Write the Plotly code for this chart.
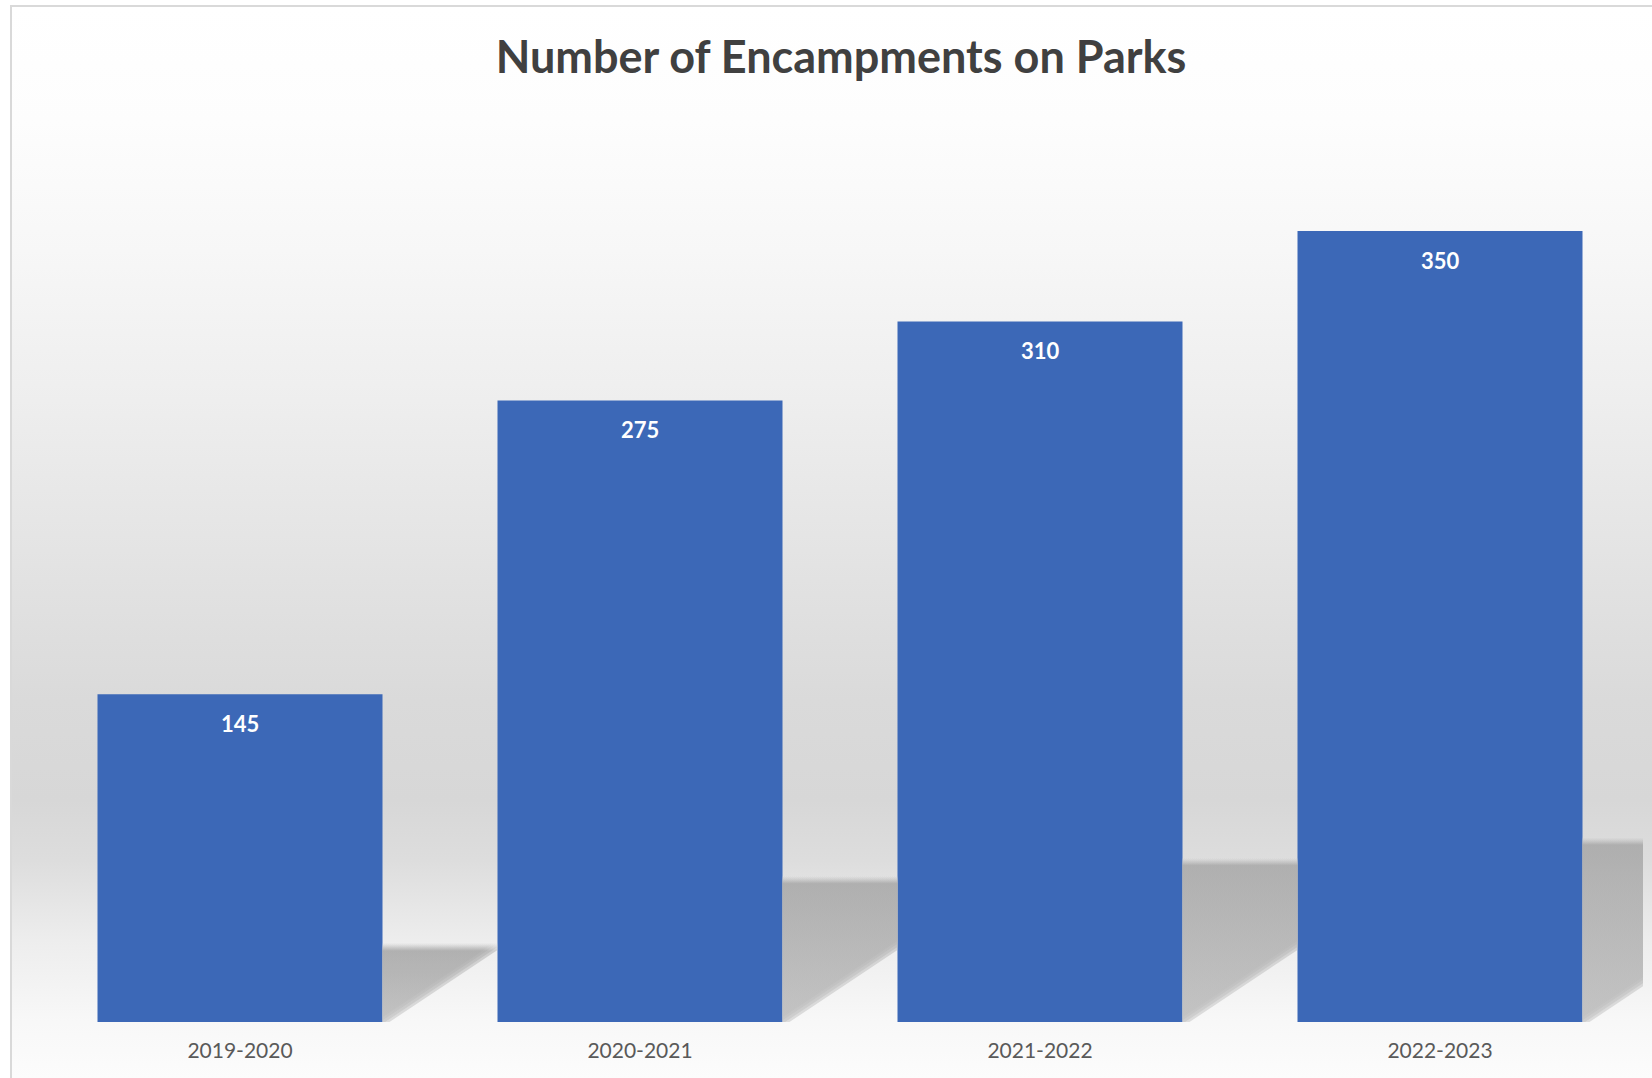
import base64
import plotly.graph_objects as go

# ---- data ----
categories = ["2019-2020", "2020-2021", "2021-2022", "2022-2023"]
values = [145, 275, 310, 350]
title_text = "Number of Encampments on Parks"

# ---- layout constants ----
W, H = 1652, 1078
ML, MR, MT, MB = 40, 9, 118, 56
Y_MAX = 400
X_RANGE = [-0.5, -0.5 + (W - ML - MR) / 400.0]
BAR_W = 0.7125
PLOT_W = W - ML - MR
PLOT_H = H - MT - MB
PX_PER_X = PLOT_W / (X_RANGE[1] - X_RANGE[0])
PX_PER_Y = PLOT_H / Y_MAX

# ---- background (gradient wall/floor + chart border) as an SVG image ----
stops = [(7, 255), (120, 253), (250, 247), (400, 238), (550, 228), (700, 218),
         (800, 215), (860, 221), (940, 237), (1022, 248), (1078, 252)]
stop_xml = "".join(
    f'<stop offset="{(y - 7) / (H - 7):.4f}" stop-color="rgb({g},{g},{g})"/>' for y, g in stops
)
svg = f'''<svg xmlns="http://www.w3.org/2000/svg" width="{W}" height="{H}" viewBox="0 0 {W} {H}" preserveAspectRatio="none">
<defs><linearGradient id="g" x1="0" y1="0" x2="0" y2="1">{stop_xml}</linearGradient></defs>
<rect x="0" y="0" width="{W}" height="{H}" fill="#ffffff"/>
<rect x="12" y="7" width="{W - 12}" height="{H - 7}" fill="url(#g)"/>
<line x1="11" y1="6" x2="11" y2="{H}" stroke="#d9d9d9" stroke-width="2"/>
<line x1="10" y1="6" x2="{W}" y2="6" stroke="#d9d9d9" stroke-width="2"/>
</svg>'''
bg_src = "data:image/svg+xml;base64," + base64.b64encode(svg.encode()).decode()


def clip_halfplane(poly, a, b, c):
    """Keep the part of polygon with a*x + b*y + c <= 0 (Sutherland-Hodgman)."""
    out = []
    n = len(poly)
    for k in range(n):
        p, q = poly[k], poly[(k + 1) % n]
        fp = a * p[0] + b * p[1] + c
        fq = a * q[0] + b * q[1] + c
        if fp <= 0:
            out.append(p)
        if (fp < 0 < fq) or (fq < 0 < fp):
            t = fp / (fp - fq)
            out.append((p[0] + t * (q[0] - p[0]), p[1] + t * (q[1] - p[1])))
    return out


fig = go.Figure()

# ---- perspective shadows (decorative, soft-edged), derived from the values ----
half = BAR_W / 2
x_end = X_RANGE[1]
for i, v in enumerate(values):
    hs = 0.229 * v                      # shadow height in data units
    dx = 1.5 * hs * PX_PER_Y / PX_PER_X  # horizontal skew in x units
    xr = i + half
    blur = 4 / PX_PER_Y
    top = hs + blur
    g = (i + 1 - half) if i < len(values) - 1 else x_end
    f = max(0.0, (hs - blur) / top)
    for s_px in (-7, -2.5, 2.5, 7):
        s = s_px / PX_PER_X
        rect = [(xr, 0), (g, 0), (g, top), (xr, top)]
        poly = clip_halfplane(rect, 1.0, -dx / hs, -(xr + s))
        if len(poly) < 3:
            continue
        xs = [p[0] for p in poly] + [poly[0][0]]
        ys = [p[1] for p in poly] + [poly[0][1]]
        fig.add_trace(go.Scatter(
            x=xs, y=ys, mode="lines", fill="toself",
            line=dict(width=0, color="rgba(0,0,0,0)"),
            fillgradient=dict(
                type="vertical",
                colorscale=[[0, "rgba(192,192,192,0.5)"], [f, "rgba(172,172,172,0.5)"],
                            [1, "rgba(215,215,215,0)"]],
                start=0, stop=top,
            ),
            hoverinfo="skip", showlegend=False,
        ))

# ---- bars ----
fig.add_trace(go.Bar(
    x=list(range(len(categories))), y=values, width=BAR_W,
    marker=dict(color="#3c68b7", line=dict(width=0)),
    hovertext=categories, hoverinfo="text+y", showlegend=False,
))

# ---- data labels ----
for i, v in enumerate(values):
    fig.add_annotation(
        x=i, y=v, yshift=-29, text=str(v), showarrow=False,
        xanchor="center", yanchor="middle",
        font=dict(family="Lato", size=22, color="#ffffff", weight="bold"),
    )

fig.update_layout(
    width=W, height=H,
    margin=dict(l=ML, r=MR, t=MT, b=MB),
    paper_bgcolor="#ffffff",
    plot_bgcolor="rgba(0,0,0,0)",
    title=dict(
        text=f"<b>{title_text}</b>", x=841 / W, xanchor="center",
        y=1 - 57 / H, yanchor="middle", yref="container",
        font=dict(family="Lato", size=45, color="#404040"),
    ),
    xaxis=dict(
        range=X_RANGE, tickmode="array", tickvals=list(range(len(categories))),
        ticktext=categories, showgrid=False, zeroline=False,
        showline=False,
        ticks="", ticklabelstandoff=14,
        tickfont=dict(family="Lato", size=21, color="#595959"),
        fixedrange=True,
    ),
    yaxis=dict(range=[0, Y_MAX], visible=False, showgrid=False, zeroline=False,
               fixedrange=True),
    images=[dict(
        source=bg_src, xref="paper", yref="paper",
        x=-ML / PLOT_W, y=1 + MT / PLOT_H,
        sizex=W / PLOT_W, sizey=H / PLOT_H,
        xanchor="left", yanchor="top", sizing="stretch", layer="below",
    )],
    bargap=0.29,
)

fig.write_html(
    "out.html",
    config={"displayModeBar": False},
    post_script="document.body.style.margin='0';document.body.style.overflow='hidden';",
)
